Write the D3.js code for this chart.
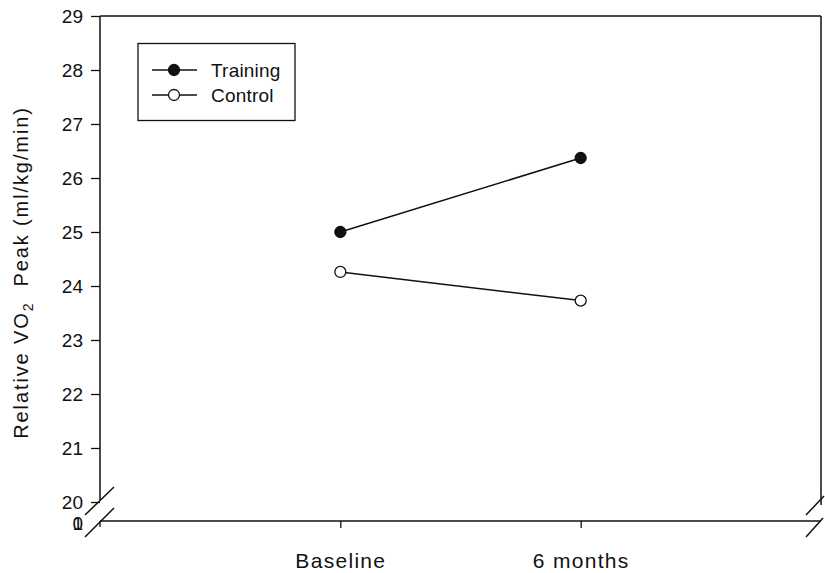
<!DOCTYPE html>
<html>
<head>
<meta charset="utf-8">
<script src="https://cdn.jsdelivr.net/npm/d3@7"></script>
<style>
  html, body { margin: 0; padding: 0; background: #fff; }
  svg { display: block; font-family: "Liberation Sans", Arial, sans-serif; }
</style>
</head>
<body>
<svg id="chart" width="825" height="573"></svg>
<script>
// Time points and group means
const timepoints = ["Baseline", "6 months"];
const timeIndex = [1, 2];
const training = [25.0, 26.37];
const control = [24.26, 23.73];
const seriesNames = ["Training", "Control"];
const yTicks = [20, 21, 22, 23, 24, 25, 26, 27, 28, 29];

(function () {
  const svg = d3.select("#chart");
  const plotLeft = 100, plotRight = 821, plotTop = 16, yBottom = 502, xAxisY = 521;
  const font = "Liberation Sans, Arial, sans-serif";

  const x = d3.scaleLinear().domain([0, 3]).range([plotLeft, plotRight]);
  const y = d3.scaleLinear().domain([20, 29]).range([yBottom, plotTop]);

  const ink = "#111";

  // Left y axis (broken below 20)
  const yAxis = d3.axisLeft(y).tickValues(yTicks).tickSize(9).tickPadding(8).tickFormat(d3.format("d"));
  const gy = svg.append("g").attr("transform", `translate(${plotLeft},0)`).call(yAxis);
  gy.select(".domain").remove();
  gy.selectAll(".tick line").attr("stroke", ink).attr("stroke-width", 1.3);
  gy.selectAll(".tick text").attr("font-size", 19).attr("fill", ink).attr("font-family", font);
  svg.append("line").attr("x1", plotLeft).attr("x2", plotLeft).attr("y1", plotTop).attr("y2", 500)
    .attr("stroke", ink).attr("stroke-width", 1.5);

  // Zero label at the bottom of the broken axis ("1" and "0" struck on one spot)
  const zero = svg.append("text").attr("x", 83).attr("y", xAxisY + 2.5).attr("dy", "0.34em")
    .attr("text-anchor", "end").attr("font-size", 19).attr("fill", ink);
  zero.append("tspan").text("1");
  zero.append("tspan").attr("dx", -10.56).text("0");

  // Right frame and top frame
  svg.append("line").attr("x1", plotRight).attr("x2", plotRight).attr("y1", plotTop).attr("y2", 505)
    .attr("stroke", ink).attr("stroke-width", 1.5);
  svg.append("line").attr("x1", plotLeft).attr("x2", plotRight).attr("y1", plotTop).attr("y2", plotTop)
    .attr("stroke", ink).attr("stroke-width", 1.5);

  // Bottom x axis
  const xAxis = d3.axisBottom(x).tickValues(timeIndex).tickSize(7).tickPadding(0)
    .tickFormat((d, i) => timepoints[i]);
  const gx = svg.append("g").attr("transform", `translate(0,${xAxisY})`).call(xAxis);
  gx.select(".domain").remove();
  gx.selectAll(".tick line").attr("stroke", ink).attr("stroke-width", 1.3);
  gx.selectAll(".tick text").attr("font-size", 21).attr("fill", ink).attr("font-family", font)
    .attr("letter-spacing", 1.3).attr("dy", 0).attr("y", 47);
  svg.append("line").attr("x1", plotLeft).attr("x2", plotRight).attr("y1", xAxisY).attr("y2", xAxisY)
    .attr("stroke", ink).attr("stroke-width", 1.5);
  svg.append("line").attr("x1", plotLeft).attr("x2", plotLeft).attr("y1", xAxisY).attr("y2", xAxisY + 6)
    .attr("stroke", ink).attr("stroke-width", 1.3);

  // Axis break marks
  const breaks = [
    [85, 515, 114, 487], [85, 537, 114, 508],
    [806, 515, 824, 496], [806, 537, 823, 518]
  ];
  svg.selectAll("line.brk").data(breaks).enter().append("line").attr("class", "brk")
    .attr("x1", d => d[0]).attr("y1", d => d[1]).attr("x2", d => d[2]).attr("y2", d => d[3])
    .attr("stroke", ink).attr("stroke-width", 1.5);

  // Y axis title
  const title = svg.append("text")
    .attr("transform", `translate(27.5,${(102 + 443) / 2}) rotate(-90)`)
    .attr("text-anchor", "middle").attr("font-size", 20).attr("letter-spacing", 1.9)
    .attr("fill", ink);
  title.append("tspan").text("Relative VO");
  title.append("tspan").attr("font-size", 14).attr("dy", 5).text("2");
  title.append("tspan").attr("dy", -5).text("\u00a0\u00a0Peak (ml/kg/min)");

  // Series lines and markers
  const line = d3.line().x((d, i) => x(timeIndex[i])).y(d => y(d));
  const series = [
    { name: seriesNames[0], values: training, fill: ink },
    { name: seriesNames[1], values: control, fill: "#fff" }
  ];
  series.forEach(s => {
    svg.append("path").attr("d", line(s.values)).attr("fill", "none")
      .attr("stroke", ink).attr("stroke-width", 1.5);
    svg.selectAll(null).data(s.values).enter().append("circle")
      .attr("cx", (d, i) => x(timeIndex[i])).attr("cy", d => y(d)).attr("r", 5.5)
      .attr("fill", s.fill).attr("stroke", ink).attr("stroke-width", 1.3);
  });

  // Legend
  const lg = svg.append("g");
  lg.append("rect").attr("x", 138).attr("y", 43.5).attr("width", 157).attr("height", 77)
    .attr("fill", "#fff").attr("stroke", ink).attr("stroke-width", 1.3);
  series.forEach((s, i) => {
    const ly = 70 + i * 25;
    lg.append("line").attr("x1", 152).attr("x2", 197).attr("y1", ly).attr("y2", ly)
      .attr("stroke", ink).attr("stroke-width", 1.5);
    lg.append("circle").attr("cx", 174).attr("cy", ly).attr("r", 5.5)
      .attr("fill", s.fill).attr("stroke", ink).attr("stroke-width", 1.3);
    lg.append("text").attr("x", 211).attr("y", ly).attr("dy", "0.35em")
      .attr("font-size", 19).attr("letter-spacing", 0.2).attr("fill", ink).text(s.name);
  });
})();
</script>
</body>
</html>
